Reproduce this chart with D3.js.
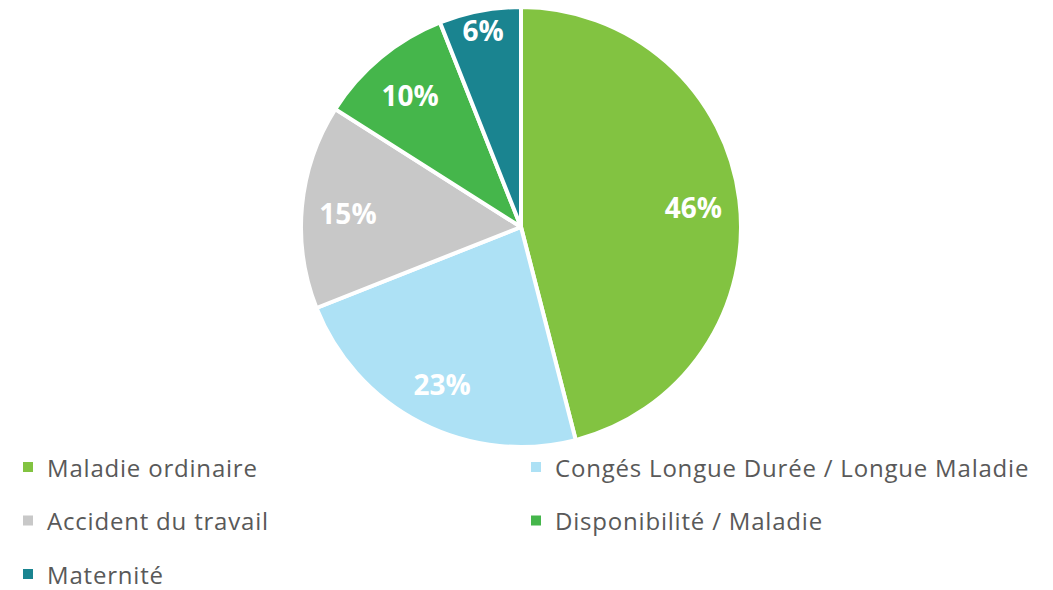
<!DOCTYPE html>
<html>
<head>
<meta charset="utf-8">
<script src="https://cdn.jsdelivr.net/npm/d3@7"></script>
<style>
  body { margin: 0; background: #fff; }
  svg { display: block; }
</style>
</head>
<body>
<svg></svg>
<script>
const width = 1053;
const height = 590;

// slices, clockwise from 12 o'clock
const categories = [
  'Maladie ordinaire',
  'Congés Longue Durée / Longue Maladie',
  'Accident du travail',
  'Disponibilité / Maladie',
  'Maternité',
];
const values = [46, 23, 15, 10, 6];
const colors = ['#82c341', '#ade1f5', '#c8c8c8', '#45b64b', '#1a8490'];

const svg = d3.select('svg')
              .attr('width', width)
              .attr('height', height);

const cx = 521;
const cy = 227;
const radius = 220;

const pie = d3.pie().sort(null).value(d => d)(values);
const arc = d3.arc().innerRadius(0).outerRadius(radius);

const g = svg.append('g').attr('transform', `translate(${cx},${cy})`);

g.selectAll('path')
  .data(pie)
  .enter()
  .append('path')
    .attr('d', arc)
    .attr('fill', (d, i) => colors[i])
    .attr('stroke', '#fff')
    .attr('stroke-width', 4)
    .attr('stroke-linejoin', 'round');

// small slices get pushed out toward the rim, like excel does
const labelArc = d => {
  const k = d.data < 8 ? 0.92 : 0.79;
  return d3.arc().innerRadius(radius * k).outerRadius(radius * k).centroid(d);
};

g.selectAll('text.pct')
  .data(pie)
  .enter()
  .append('text')
    .attr('class', 'pct')
    .attr('x', d => labelArc(d)[0])
    .attr('y', d => labelArc(d)[1] + 2)
    .attr('text-anchor', 'middle')
    .attr('dominant-baseline', 'central')
    .attr('fill', '#fff')
    .attr('font-family', 'Open Sans, sans-serif')
    .attr('font-weight', 'bold')
    .attr('font-size', 28)
    .text(d => d.data + '%');

// legend, two columns
const legend = svg.append('g')
  .selectAll('g')
  .data(categories)
  .enter()
  .append('g')
    .attr('transform', (d, i) => `translate(${i % 2 ? 531 : 23},${467 + Math.floor(i / 2) * 53.5})`);

legend.append('rect')
  .attr('x', 0)
  .attr('y', -5)
  .attr('width', 10)
  .attr('height', 10)
  .attr('fill', (d, i) => colors[i]);

legend.append('text')
  .attr('x', 24)
  .attr('y', 0)
  .attr('dominant-baseline', 'central')
  .attr('fill', '#595959')
  .attr('font-family', 'Open Sans, sans-serif')
  .attr('font-size', 24)
  .attr('letter-spacing', 0.8)
  .text(d => d);
</script>
</body>
</html>
